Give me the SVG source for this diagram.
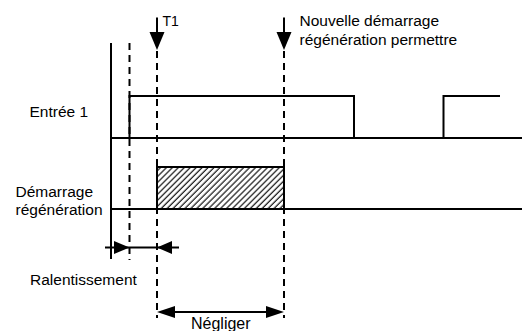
<svg xmlns="http://www.w3.org/2000/svg" width="522" height="331" viewBox="0 0 522 331">
<style>
text{font-family:"Liberation Sans",Arial,sans-serif;font-size:15.5px;fill:#000}
.sig{fill:none;stroke:#000;stroke-width:2}
.dash{fill:none;stroke:#000;stroke-width:2;stroke-dasharray:7 5}
.ln{fill:none;stroke:#000;stroke-width:2}
.hd{fill:#000;stroke:none}
</style>
<defs>
<pattern id="hatch" patternUnits="userSpaceOnUse" width="4.2" height="4.2" patternTransform="rotate(45)">
<line x1="1" y1="0" x2="1" y2="4.2" stroke="#000" stroke-width="1.1"/>
</pattern>
</defs>
<rect width="522" height="331" fill="#fff"/>
<g id="axis">
<line class="ln" x1="111" y1="43" x2="111" y2="259"/>
</g>
<g id="guides">
<line class="dash" x1="129.5" y1="43" x2="129.5" y2="260"/>
<line class="dash" x1="157" y1="51" x2="157" y2="318"/>
<line class="dash" x1="284" y1="51" x2="284" y2="318"/>
</g>
<g id="entree1">
<text x="29.5" y="117">Entrée 1</text>
<line class="sig" x1="111" y1="138" x2="522" y2="138"/>
<polyline class="sig" points="129.5,138 129.5,96 354,96 354,138"/>
<polyline class="sig" points="443.5,138 443.5,96 500,96"/>
</g>
<g id="demarrage">
<text x="15.5" y="196.5">Démarrage</text>
<text x="15.5" y="214.5">régénération</text>
<rect x="157" y="167" width="127" height="42" fill="url(#hatch)" stroke="#000" stroke-width="2"/>
<line class="sig" x1="111" y1="209" x2="522" y2="209"/>
</g>
<g id="t1">
<line class="ln" x1="157" y1="17.5" x2="157" y2="34"/>
<polygon class="hd" points="149.5,32 164.5,32 157,50"/>
<text x="162.5" y="25.5" style="font-size:14px">T1</text>
</g>
<g id="nouvelle">
<line class="ln" x1="284" y1="17.5" x2="284" y2="34"/>
<polygon class="hd" points="276.5,32 291.5,32 284,50"/>
<text x="299.5" y="26">Nouvelle démarrage</text>
<text x="299.5" y="44.5">régénération permettre</text>
</g>
<g id="connectors">
<g id="ralentissement-dim">
<line class="ln" x1="105" y1="247.5" x2="179" y2="247.5"/>
<polygon class="hd" points="114,241 114,254 129.5,247.5"/>
<polygon class="hd" points="172,241 172,254 157,247.5"/>
</g>
<g id="negliger-dim">
<line class="ln" x1="160" y1="312" x2="281" y2="312"/>
<polygon class="hd" points="175,306 175,318 157,312"/>
<polygon class="hd" points="266,306 266,318 284,312"/>
</g>
</g>
<g id="labels">
<text x="30" y="285">Ralentissement</text>
<text x="191" y="329" style="font-size:16px">Négliger</text>
</g>
</svg>
